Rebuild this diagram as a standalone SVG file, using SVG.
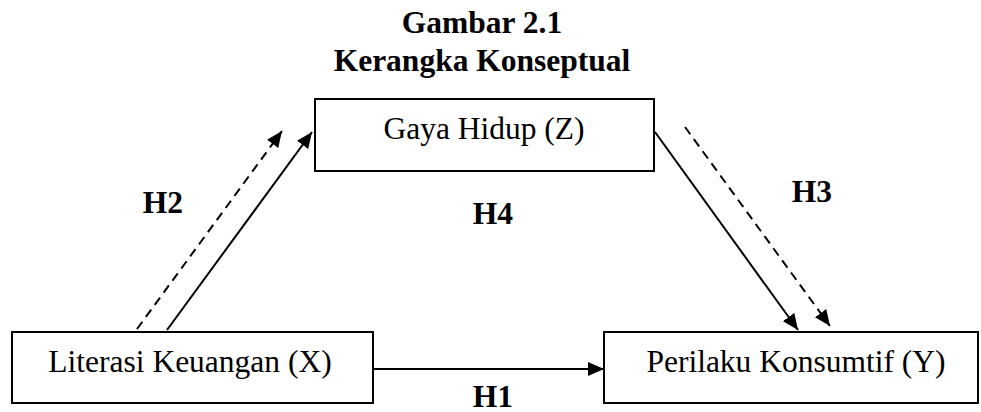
<svg xmlns="http://www.w3.org/2000/svg" width="981" height="412" viewBox="0 0 981 412">
<style>
.box{fill:#fff;stroke:#000;stroke-width:2}
.t{font-family:"Liberation Serif","Times New Roman",serif;font-size:31.5px;fill:#000;text-anchor:middle}
.b{font-weight:bold}
.ln{stroke:#000;stroke-width:2;fill:none}
.dash{stroke-dasharray:9 6}
</style>
<defs>
<marker id="ah" markerUnits="userSpaceOnUse" markerWidth="18" markerHeight="14" refX="16" refY="7" orient="auto">
<path d="M0,0 L16,7 L0,14 Z" fill="#000"/>
</marker>
</defs>
<rect width="981" height="412" fill="#fff"/>
<g id="title">
<text class="t b" x="482" y="33">Gambar 2.1</text>
<text class="t b" x="482" y="71">Kerangka Konseptual</text>
</g>
<g id="connectors">
<line class="ln" x1="373" y1="369" x2="604" y2="369" marker-end="url(#ah)"/>
<line class="ln" x1="167" y1="330" x2="312" y2="132" marker-end="url(#ah)"/>
<line class="ln dash" x1="137" y1="329" x2="282" y2="131" marker-end="url(#ah)"/>
<line class="ln" x1="655" y1="132" x2="798" y2="330" marker-end="url(#ah)"/>
<line class="ln dash" x1="685" y1="127" x2="830" y2="326" marker-end="url(#ah)"/>
</g>
<g id="nodeZ">
<rect class="box" x="315" y="99" width="339" height="72"/>
<text class="t" x="484" y="139">Gaya Hidup (Z)</text>
</g>
<g id="nodeX">
<rect class="box" x="12" y="332" width="361" height="71"/>
<text class="t" x="190" y="372">Literasi Keuangan (X)</text>
</g>
<g id="nodeY">
<rect class="box" x="604" y="332" width="374" height="71"/>
<text class="t" x="796" y="372">Perilaku Konsumtif (Y)</text>
</g>
<g id="labels">
<text class="t b" x="163" y="213">H2</text>
<text class="t b" x="812" y="202">H3</text>
<text class="t b" x="493" y="224">H4</text>
<text class="t b" x="493" y="407">H1</text>
</g>
</svg>
